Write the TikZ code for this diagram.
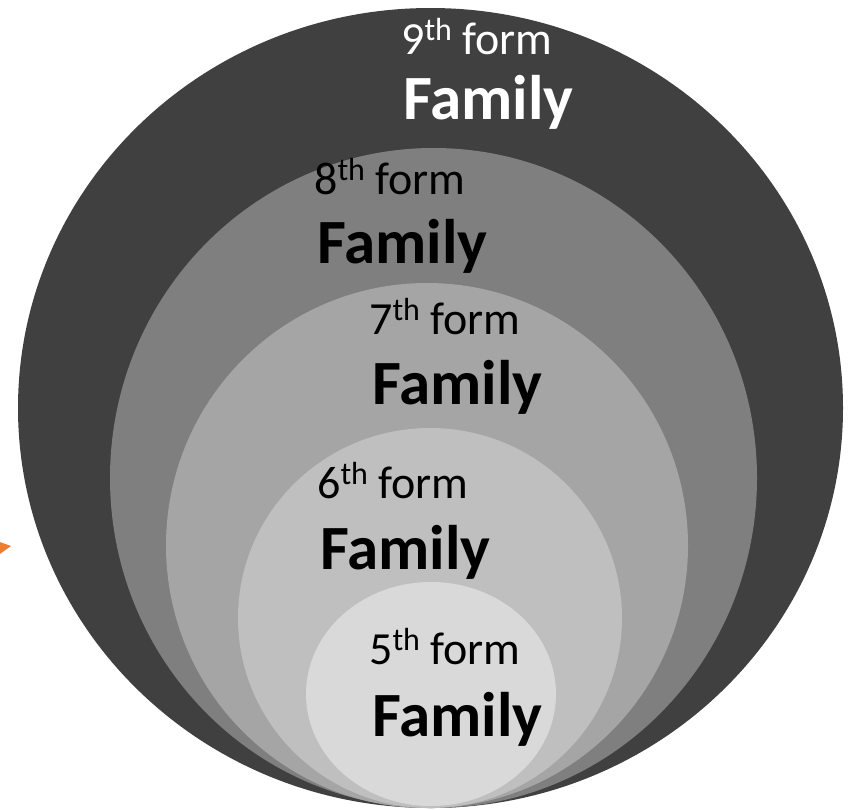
\documentclass[tikz,border=0pt]{standalone}
\usepackage{fontspec}
\setmainfont{Carlito}
\definecolor{cnine}{HTML}{404040}
\definecolor{ceight}{HTML}{7F7F7F}
\definecolor{cseven}{HTML}{A5A5A5}
\definecolor{csix}{HTML}{BFBFBF}
\definecolor{cfive}{HTML}{D9D9D9}
\definecolor{corange}{HTML}{ED7D31}
\newcommand\supth{\raisebox{0.3em}{\fontsize{32}{32}\selectfont th}}
\begin{document}
\begin{tikzpicture}[x=1pt,y=-1pt,
  formtext/.style={anchor=base west, inner sep=0pt, font=\fontsize{46}{46}\selectfont},
  famtext/.style={anchor=base west, inner sep=0pt, font=\fontsize{63}{63}\selectfont\bfseries}]
\useasboundingbox (0,0) rectangle (848,809);
\clip (0,0) rectangle (848,809);
% rings
\fill[cnine]  (430.5,408) ellipse [x radius=412.5pt, y radius=400pt];
\fill[ceight] (433.5,478) ellipse [x radius=323.5pt, y radius=330pt];
\fill[cseven] (427,545.5) ellipse [x radius=261pt, y radius=262.5pt];
\fill[csix]   (430,618) ellipse [x radius=192pt, y radius=190pt];
\fill[cfive]  (431,694) ellipse [x radius=125pt, y radius=112pt];
% orange arrow tip
\fill[corange] (-3,541) -- (11,546) -- (-3,556) -- cycle;
% labels
\node[formtext, text=white] (f9) at (401,54) {9\supth{} form};
\node[famtext, text=white] (F9) at (403,119) {Family};
\node[formtext] (f8) at (314,194) {8\supth{} form};
\node[famtext] (F8) at (317,263) {Family};
\node[formtext] (f7) at (369,334) {7\supth{} form};
\node[famtext] (F7) at (372,404) {Family};
\node[formtext] (f6) at (317,498) {6\supth{} form};
\node[famtext] (F6) at (320,569) {Family};
\node[formtext] (f5) at (369,664) {5\supth{} form};
\node[famtext] (F5) at (372,736) {Family};
\end{tikzpicture}
\end{document}
